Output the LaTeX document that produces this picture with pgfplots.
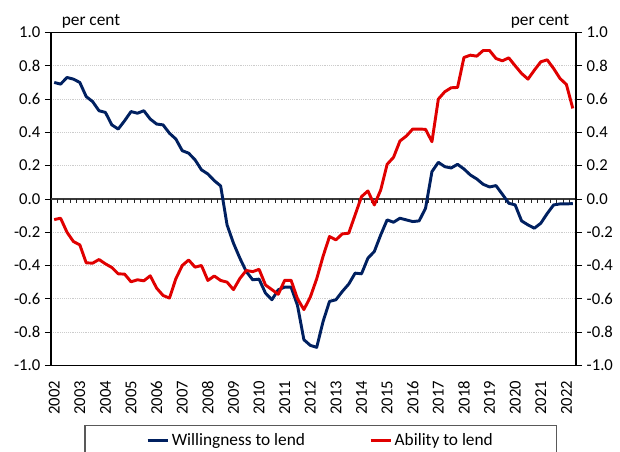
\documentclass[border=0pt]{standalone}
\usepackage{pgfplots}
\pgfplotsset{compat=1.18}
\usepackage{fontspec}
\setmainfont{Carlito}
\definecolor{wblue}{RGB}{0,32,96}
\definecolor{ared}{RGB}{224,0,0}
\pgfplotstableread{
k W A
0 0.70 -0.124
1 0.69 -0.116
2 0.73 -0.20
3 0.72 -0.256
4 0.70 -0.276
5 0.615 -0.384
6 0.585 -0.386
7 0.53 -0.364
8 0.52 -0.39
9 0.445 -0.412
10 0.42 -0.45
11 0.47 -0.452
12 0.525 -0.498
13 0.515 -0.486
14 0.53 -0.492
15 0.48 -0.462
16 0.45 -0.536
17 0.445 -0.58
18 0.395 -0.596
19 0.36 -0.48
20 0.29 -0.40
21 0.275 -0.367
22 0.235 -0.41
23 0.175 -0.40
24 0.15 -0.49
25 0.11 -0.463
26 0.078 -0.49
27 -0.156 -0.50
28 -0.266 -0.545
29 -0.356 -0.478
30 -0.436 -0.43
31 -0.486 -0.437
32 -0.482 -0.423
33 -0.566 -0.517
34 -0.606 -0.545
35 -0.546 -0.573
36 -0.53 -0.489
37 -0.53 -0.489
38 -0.64 -0.60
39 -0.846 -0.665
40 -0.88 -0.59
41 -0.892 -0.48
42 -0.736 -0.344
43 -0.616 -0.226
44 -0.606 -0.246
45 -0.556 -0.21
46 -0.512 -0.206
47 -0.446 -0.096
48 -0.45 0.014
49 -0.356 0.048
50 -0.316 -0.036
51 -0.216 0.054
52 -0.126 0.208
53 -0.14 0.25
54 -0.116 0.348
55 -0.126 0.378
56 -0.136 0.42
57 -0.132 0.42
58 -0.056 0.418
59 0.164 0.344
60 0.22 0.60
61 0.194 0.644
62 0.186 0.668
63 0.208 0.67
64 0.18 0.85
65 0.144 0.864
66 0.12 0.858
67 0.088 0.892
68 0.072 0.892
69 0.08 0.844
70 0.028 0.83
71 -0.026 0.848
72 -0.036 0.80
73 -0.132 0.754
74 -0.156 0.72
75 -0.176 0.774
76 -0.146 0.824
77 -0.088 0.836
78 -0.036 0.784
79 -0.03 0.724
80 -0.03 0.688
81 -0.028 0.544
}\datatable
\begin{document}
\begin{tikzpicture}
\pgfplotsset{
  common/.style={
    width=393.75pt, height=249.6pt, scale only axis,
    xmin=-0.5, xmax=81.5, ymin=-1, ymax=1,
    ytick={-1,-0.8,-0.6,-0.4,-0.2,0,0.2,0.4,0.6,0.8,1},
    tick align=outside, major tick length=4.5pt,
    axis line style={black, line width=0.8pt},
    y tick style={black, line width=0.6pt},
    yticklabel style={/pgf/number format/.cd, fixed, fixed zerofill, precision=1},
    /pgf/number format/assume math mode=true,
    tick label style={font=\fontsize{12.5}{14}\selectfont},
  }
}
\begin{axis}[common, name=ax,
  ytick pos=left,
  xtick={0,4,...,80},
  xticklabels={2002,2003,2004,2005,2006,2007,2008,2009,2010,2011,2012,2013,2014,2015,2016,2017,2018,2019,2020,2021,2022},
  x tick style={draw=none},
  xticklabel style={rotate=90, anchor=east},
  xticklabel shift=3.5pt,
  ymajorgrids, y grid style={densely dotted, gray!40, line width=0.6pt},
  clip=false,
  legend style={at={(axis description cs:0.514,-0.2245)}, anchor=center,
    draw=none, fill=none, legend columns=2,
    font=\fontsize{13}{15}\selectfont,
    /tikz/every even column/.append style={column sep=46pt},
    legend cell align=left},
  legend image code/.code={\draw[#1, line width=2.2pt] (0pt,0pt) -- (15pt,0pt);},
]
\draw[gray!45!black, line width=0.9pt] (axis cs:-0.5,0) -- (axis cs:81.5,0);
\pgfplotsinvokeforeach{0,...,80}{
  \draw[gray!30!black, line width=0.6pt] (axis cs:#1.5,0) -- ++(0pt,-3.2pt);
}
\addplot[wblue, line width=2.2pt, line join=round] table[x=k, y=W] {\datatable};
\addlegendentry{Willingness to lend}
\addplot[ared, line width=2.2pt, line join=round] table[x=k, y=A] {\datatable};
\addlegendentry{Ability to lend}
\draw[gray!70!black, line width=0.8pt] (axis description cs:0.0648,-0.1815) rectangle (axis description cs:0.962,-0.35);
\node[anchor=base west, font=\fontsize{13}{15}\selectfont, inner sep=0pt] at (axis description cs:0.02,1.0225) {per cent};
\node[anchor=base east, font=\fontsize{13}{15}\selectfont, inner sep=0pt] at (axis description cs:0.9876,1.0225) {per cent};
\end{axis}
\begin{axis}[common, at={(ax.south west)}, anchor=south west,
  hide x axis, axis y line*=right, ytick pos=right]
\end{axis}
\pgfresetboundingbox
\path[use as bounding box] ([xshift=-38.25pt,yshift=-65.0pt]ax.south west) rectangle ++(465pt,339pt);
\end{tikzpicture}
\end{document}
